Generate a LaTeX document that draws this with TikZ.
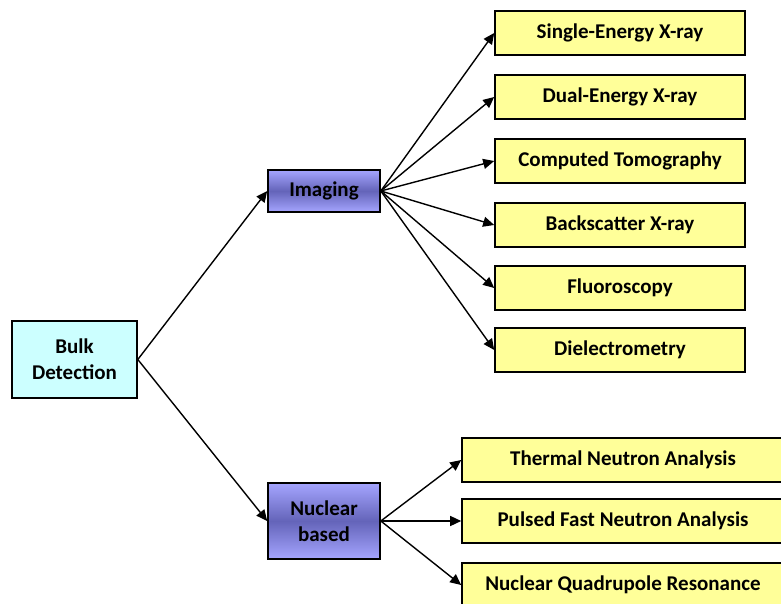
\documentclass[tikz,border=0pt]{standalone}
\usepackage{fontspec}
\setmainfont{Carlito}
\usetikzlibrary{arrows.meta}
\definecolor{bulkfill}{RGB}{204,255,255}
\definecolor{yel}{RGB}{255,255,153}
\definecolor{purtop}{RGB}{165,165,255}
\definecolor{purmid}{RGB}{100,100,185}
\tikzset{
  box/.style={draw=black, line width=1.6pt, align=center, inner sep=0pt, font=\bfseries\fontsize{21}{26}\selectfont},
  bulkbox/.style={box, fill=bulkfill, minimum width=125pt, minimum height=77pt},
  midbox/.style={box, top color=purtop, bottom color=purtop, middle color=purmid, minimum width=112pt},
  leafbox/.style={box, fill=yel, minimum width=250pt, minimum height=44pt},
  nleafbox/.style={box, fill=yel, minimum width=322pt, minimum height=44pt},
  conn/.style={-{Triangle[length=11pt,width=10pt]}, line width=1.4pt}
}
\begin{document}
\begin{tikzpicture}[x=1pt,y=-1pt]
\useasboundingbox (0,0) rectangle (781,604);
\node[bulkbox] (bulk) at (74.5,359.5) {Bulk\\Detection};
\node[midbox, minimum height=42pt] (img) at (324,191) {Imaging};
\node[midbox, minimum height=76pt] (nuc) at (324,521) {Nuclear\\based};
\node[leafbox] (l1) at (620,33) {Single-Energy X-ray};
\node[leafbox] (l2) at (620,97) {Dual-Energy X-ray};
\node[leafbox] (l3) at (620,161) {Computed Tomography};
\node[leafbox] (l4) at (620,225) {Backscatter X-ray};
\node[leafbox] (l5) at (620,288) {Fluoroscopy};
\node[leafbox] (l6) at (620,350) {Dielectrometry};
\node[nleafbox] (n1) at (623,460) {Thermal Neutron Analysis};
\node[nleafbox] (n2) at (623,521) {Pulsed Fast Neutron Analysis};
\node[nleafbox] (n3) at (623,585) {Nuclear Quadrupole Resonance};
\draw[conn] (bulk.east) -- (img.west);
\draw[conn] (bulk.east) -- (nuc.west);
\foreach \t in {l1,l2,l3,l4,l5,l6} \draw[conn] (img.east) -- (\t.west);
\foreach \t in {n1,n2,n3} \draw[conn] (nuc.east) -- (\t.west);
\end{tikzpicture}
\end{document}
